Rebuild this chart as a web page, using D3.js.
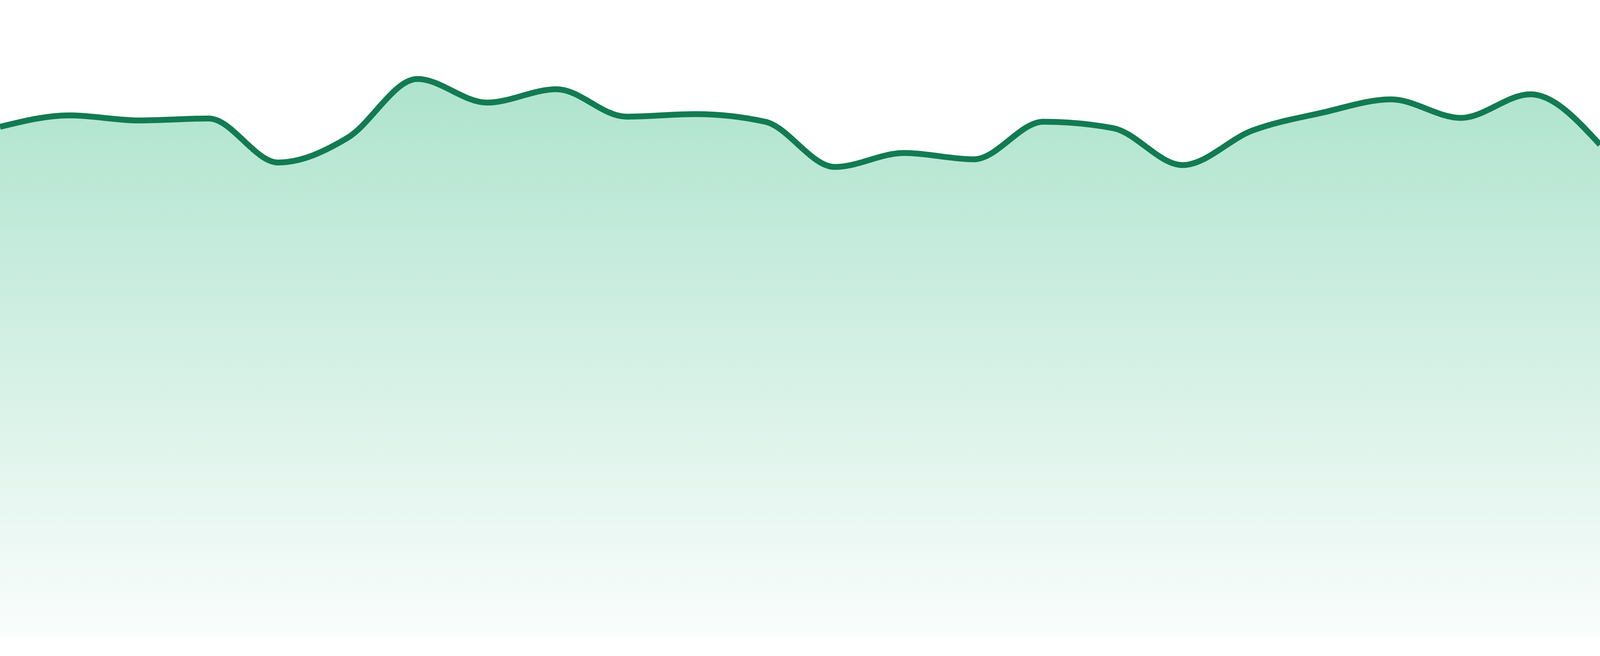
<!DOCTYPE html>
<html>
<head>
<meta charset="utf-8">
<script src="https://cdn.jsdelivr.net/npm/d3@7"></script>
<style>
  html, body { margin: 0; padding: 0; background: #ffffff; width: 100%; height: 100%; overflow: hidden; }
  svg { display: block; }
</style>
</head>
<body>
<div id="chart"></div>
<script>
// Categories (24 evenly spaced points, no visible labels in the reference)
const categories = d3.range(1, 25).map(d => "P" + d);
// Series values
const values = [80.1, 81.9, 81.1, 81.4, 74.5, 78.4, 87.6, 83.9, 86.0, 81.7, 82.1, 80.9,
                73.8, 76.0, 75.0, 80.9, 79.9, 74.1, 79.5, 82.3, 84.4, 81.5, 85.2, 77.3];
const yDomain = [0, 100];

const W = window.innerWidth || 4800;
const H = window.innerHeight || 1680;
const plotBottom = H * (1632 / 1680);

const svg = d3.select("#chart").append("svg")
  .attr("width", W).attr("height", H);

const x = d3.scalePoint().domain(categories).range([0, W]);
const y = d3.scaleLinear().domain(yDomain).range([plotBottom, 0]);

const data = categories.map((c, i) => ({ c, v: values[i] }));

const defs = svg.append("defs");
const grad = defs.append("linearGradient")
  .attr("id", "areaGrad")
  .attr("gradientUnits", "userSpaceOnUse")
  .attr("x1", 0).attr("x2", 0)
  .attr("y1", H * 180 / 1680).attr("y2", plotBottom);
grad.append("stop").attr("offset", "0%").attr("stop-color", "#ade3cd");
grad.append("stop").attr("offset", "100%").attr("stop-color", "#fafdfc");

const area = d3.area()
  .x(d => x(d.c))
  .y0(y(0))
  .y1(d => y(d.v))
  .curve(d3.curveMonotoneX);

const line = d3.line()
  .x(d => x(d.c))
  .y(d => y(d.v))
  .curve(d3.curveMonotoneX);

svg.append("path")
  .datum(data)
  .attr("d", area)
  .attr("fill", "url(#areaGrad)");

svg.append("path")
  .datum(data)
  .attr("d", line)
  .attr("fill", "none")
  .attr("stroke", "#127b52")
  .attr("stroke-width", 15)
  .attr("stroke-linejoin", "round");
</script>
</body>
</html>
